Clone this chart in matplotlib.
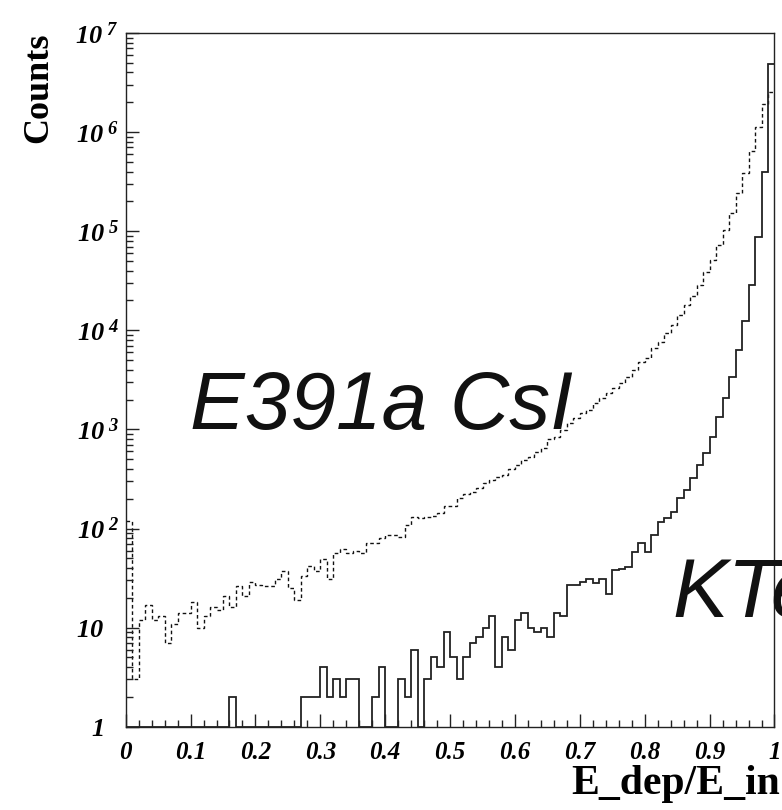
import numpy as np
import matplotlib
matplotlib.use("Agg")
import matplotlib.pyplot as plt
from matplotlib.ticker import FixedLocator, FixedFormatter, NullFormatter
from matplotlib.transforms import ScaledTranslation

# ---------------- data ----------------
n_bins = 100
x_min, x_max = 0.0, 1.0

e391a_csi = [120, 3, 12, 17, 12, 13, 7, 11, 14, 14,
             18, 10, 13, 16, 15, 21, 16, 26, 21, 29,
             27, 26, 26, 31, 37, 25, 19, 33, 42, 37,
             49, 31, 56, 62, 57, 60, 57, 71, 72, 80,
             86, 86, 82, 108, 131, 128, 131, 135, 142, 169,
             169, 202, 223, 235, 254, 286, 309, 334, 347, 396,
             437, 490, 530, 595, 644, 794, 845, 987, 1170, 1300,
             1460, 1570, 1840, 2060, 2320, 2600, 2970, 3410, 3980, 4830,
             5220, 6580, 7670, 9330, 11300, 14300, 18000, 22200, 28600, 39000,
             51100, 72500, 103000, 154000, 241000, 384000, 649000, 1130000, 1920000, 2560000]

ktev = [0, 0, 0, 0, 0, 0, 0, 0, 0, 0,
        0, 0, 0, 0, 0, 0, 2, 0, 0, 0,
        0, 0, 0, 0, 0, 0, 0, 2, 2, 2,
        4, 2, 3, 2, 3, 3, 0, 0, 2, 4,
        0, 0, 3, 2, 6, 0, 3, 5, 4, 9,
        5, 3, 5, 7, 8, 10, 13, 4, 8, 6,
        12, 14, 10, 9, 10, 8, 14, 13, 27, 27,
        29, 31, 28, 31, 22, 38, 39, 41, 58, 72,
        58, 86, 117, 127, 146, 202, 245, 321, 437, 582,
        832, 1325, 2056, 3350, 6300, 12500, 28600, 86700, 398000, 4900000]

xtick_values = [0.0, 0.1, 0.2, 0.3, 0.4, 0.5, 0.6, 0.7, 0.8, 0.9, 1.0]
xtick_labels = ["0", "0.1", "0.2", "0.3", "0.4", "0.5", "0.6", "0.7", "0.8", "0.9", "1"]
ytick_values = [1, 10, 1e2, 1e3, 1e4, 1e5, 1e6, 1e7]
ytick_labels = [r"$1$", r"$10$", r"$10^{\ 2}$", r"$10^{\ 3}$",
                r"$10^{\ 4}$", r"$10^{\ 5}$", r"$10^{\ 6}$", r"$10^{\ 7}$"]

label_csi = "E391a CsI"
label_ktev = "KTeV"
x_title = "E_dep/E_in"
y_title = "Counts"

# ---------------- style ----------------
plt.rcParams["mathtext.fontset"] = "custom"
plt.rcParams["mathtext.rm"] = "Liberation Serif:bold:italic"
plt.rcParams["mathtext.it"] = "Liberation Serif:bold:italic"
plt.rcParams["mathtext.bf"] = "Liberation Serif:bold:italic"

fig = plt.figure(figsize=(7.82, 8.10), dpi=100)
ax = fig.add_axes([0.1607, 0.1028, 0.9904 - 0.1607, 0.9593 - 0.1028])

edges = np.linspace(x_min, x_max, n_bins + 1)
csi = np.asarray(e391a_csi, dtype=float)
kt = np.asarray(ktev, dtype=float)
kt_plot = np.where(kt > 0, kt, 1.0)

ax.stairs(csi, edges, baseline=None, color="#111111", lw=1.0,
          linestyle=(0, (2.6, 2.0)))
ax.stairs(kt_plot, edges, baseline=None, color="#222222", lw=1.3)

ax.set_yscale("log")
ax.set_xlim(x_min, x_max)
ax.set_ylim(1, 1e7)

ax.xaxis.set_major_locator(FixedLocator(xtick_values))
ax.xaxis.set_major_formatter(FixedFormatter(xtick_labels))
ax.xaxis.set_minor_locator(FixedLocator(np.arange(0, 1.0001, 0.02)))
ax.yaxis.set_major_locator(FixedLocator(ytick_values))
ax.yaxis.set_major_formatter(FixedFormatter(ytick_labels))
minors = [m * 10 ** d for d in range(0, 7) for m in range(2, 10)]
ax.yaxis.set_minor_locator(FixedLocator(minors))
ax.yaxis.set_minor_formatter(NullFormatter())

ax.tick_params(axis="both", which="major", direction="in", length=9.5,
               width=1.0, color="#222222")
ax.tick_params(axis="both", which="minor", direction="in", length=5,
               width=1.0, color="#222222")
ax.tick_params(axis="x", which="major", pad=10, labelsize=18)
ax.tick_params(axis="y", which="major", pad=5, labelsize=19)
for lab in ax.get_xticklabels() + ax.get_yticklabels():
    lab.set_fontfamily("Liberation Serif")
    lab.set_fontweight("bold")
    lab.set_fontstyle("italic")

# labels without exponent sit under the "10" of the others
yticks = ax.yaxis.get_major_ticks(len(ytick_values))
for t, txt in zip(yticks, ytick_labels):
    if "^" not in txt:
        t.label1.set_transform(t.label1.get_transform() +
                               ScaledTranslation(-0.15, 0, fig.dpi_scale_trans))

for sp in ax.spines.values():
    sp.set_linewidth(1.0)
    sp.set_color("#222222")

ax.text(0.099, 1000, label_csi, fontsize=59, fontfamily="Liberation Sans",
        style="italic", ha="left", va="baseline", color="#111111")
ax.text(0.843, 12.8, label_ktev, fontsize=60, fontfamily="Liberation Sans",
        style="italic", ha="left", va="baseline", color="#111111", clip_on=False)

ax.set_xlabel(x_title, fontsize=30, fontfamily="Liberation Serif",
              fontweight="bold", loc="right")
ax.xaxis.set_label_coords(1.008, -0.055)
ax.set_ylabel(y_title, fontsize=26, fontfamily="Liberation Serif",
              fontweight="bold", loc="top")
ax.yaxis.set_label_coords(-0.108, 1.0)

fig.savefig("out.png", dpi=100)
